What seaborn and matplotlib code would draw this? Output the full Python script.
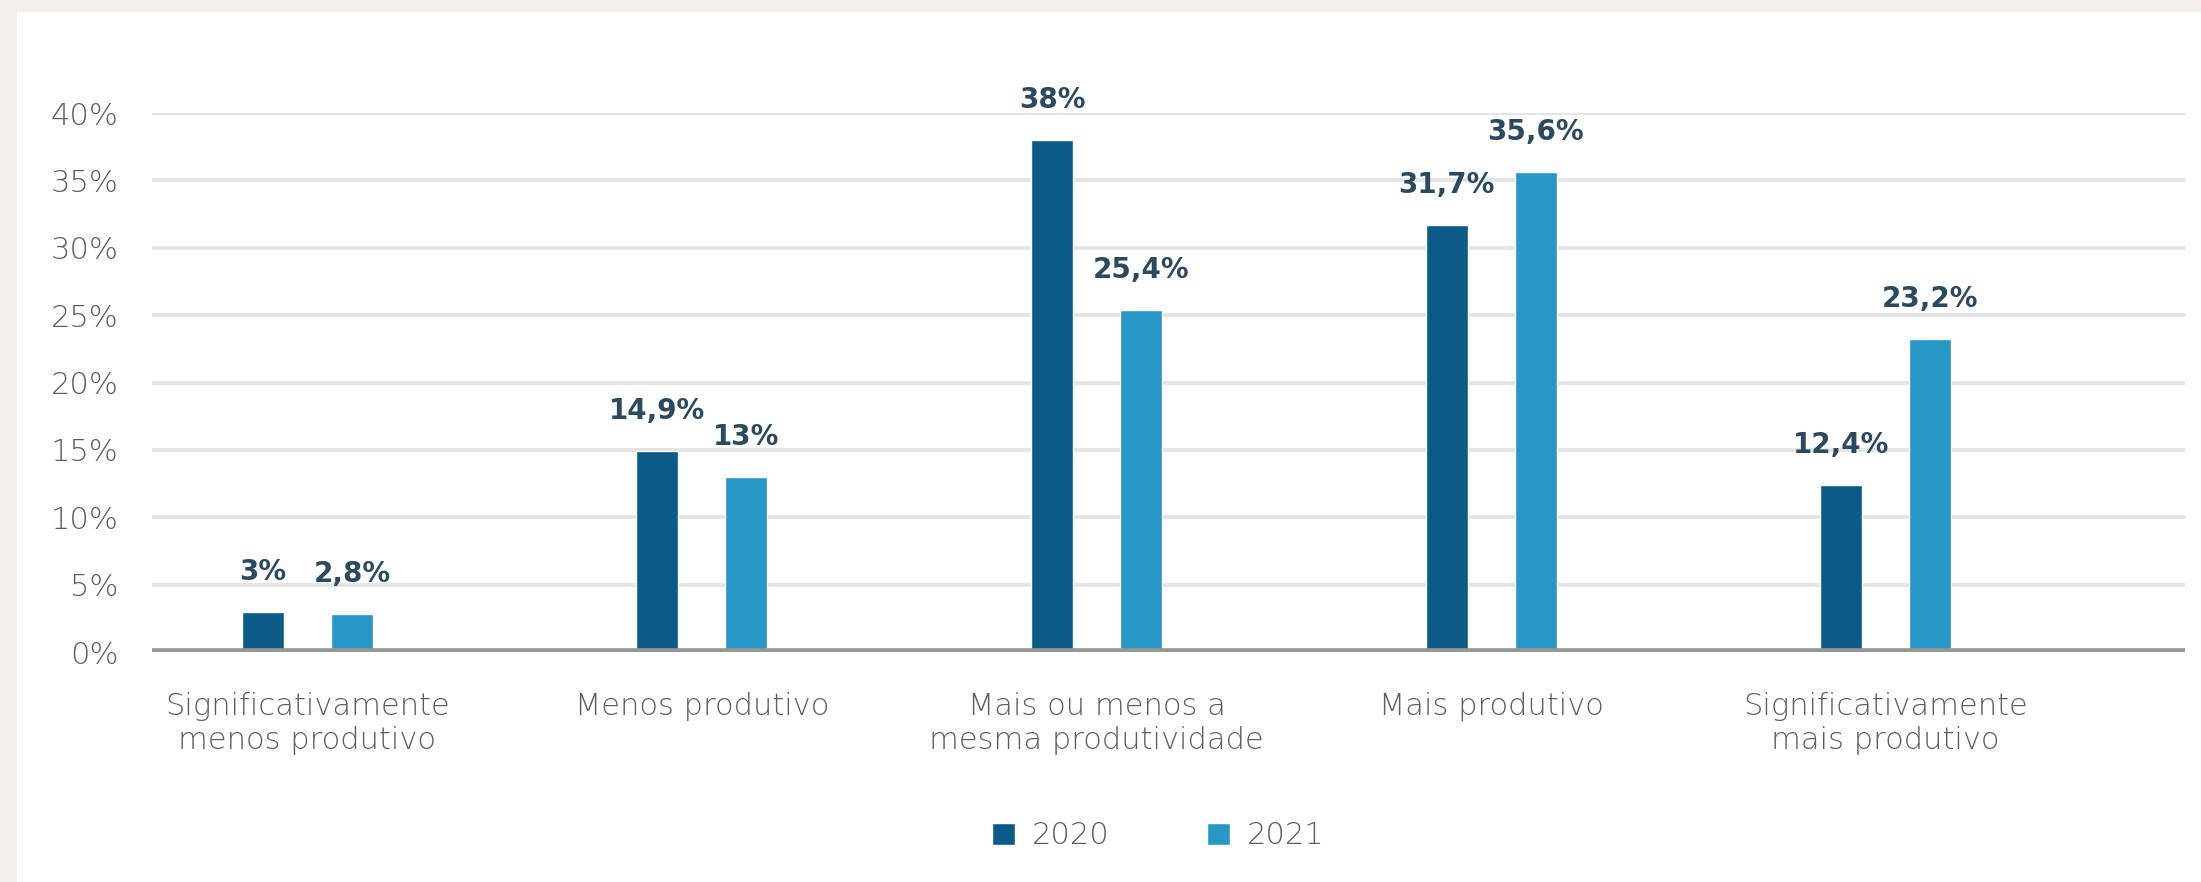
import matplotlib
matplotlib.use("Agg")
import matplotlib.pyplot as plt
from matplotlib.patches import Rectangle
import seaborn as sns
import pandas as pd

# Survey answers: perceived productivity, 2020 vs 2021
categories = [
    "Significativamente\nmenos produtivo",
    "Menos produtivo",
    "Mais ou menos a\nmesma produtividade",
    "Mais produtivo",
    "Significativamente\nmais produtivo",
]
years = ["2020", "2021"]
values_2020 = [3, 14.9, 38, 31.7, 12.4]
values_2021 = [2.8, 13, 25.4, 35.6, 23.2]
y_ticks = [0, 5, 10, 15, 20, 25, 30, 35, 40]

df = pd.DataFrame({
    "Categoria": categories * 2,
    "Ano": [years[0]] * len(categories) + [years[1]] * len(categories),
    "Valor": values_2020 + values_2021,
})

sns.set_theme(style="white")
plt.rcParams["font.family"] = ["DejaVu Sans"]

palette = {"2020": "#0b5a87", "2021": "#2797c5"}
gray_text = "#5e5e5e"
label_color = "#2b4a60"

fig = plt.figure(figsize=(22.01, 8.82), dpi=100)
fig.patch.set_facecolor("#f3f0eb")
# white card behind the chart
card = Rectangle((17 / 2201, 0), 1, 1 - 12 / 882, transform=fig.transFigure,
                 facecolor="white", edgecolor="none", zorder=-10)
fig.add_artist(card)

ax = fig.add_axes([0.06906, 0.26077, 0.92367, 0.61111])
ax.set_facecolor("none")

sns.barplot(data=df, x="Categoria", y="Valor", hue="Ano", order=categories,
            hue_order=years, palette=palette, width=0.451, gap=0.528,
            saturation=1, ax=ax, zorder=2)

# value labels above each bar
for container in ax.containers:
    labels = [f"{b.get_height():g}".replace(".", ",") + "%" for b in container]
    for bar, text in zip(container, labels):
        ax.annotate(text, (bar.get_x() + bar.get_width() / 2, bar.get_height()),
                    xytext=(0, 23), textcoords="offset points",
                    ha="center", va="baseline", fontsize=20,
                    fontweight="bold", color=label_color)

ax.set_ylim(0, 40)
ax.set_xlim(-0.394, 4.759)
ax.set_yticks(y_ticks)
ax.set_yticklabels([f"{t}%" for t in y_ticks])
ax.yaxis.grid(True, color="#e4e4e4", linewidth=2.8)
ax.xaxis.grid(False)
ax.set_axisbelow(True)
ax.axhline(0, color="#969696", linewidth=5.5, zorder=3)

for s in ax.spines.values():
    s.set_visible(False)
ax.tick_params(axis="y", length=0, pad=24, labelsize=22, labelcolor=gray_text)
ax.tick_params(axis="x", length=0, pad=29, labelsize=22, labelcolor=gray_text)
for lbl in ax.get_xticklabels():
    lbl.set_linespacing(1.2)
    lbl.set_fontweight("light")
for lbl in ax.get_yticklabels():
    lbl.set_fontweight("light")
ax.set_xlabel("")
ax.set_ylabel("")

handles, labels = ax.get_legend_handles_labels()
ax.legend(handles, labels, loc="center", bbox_to_anchor=(1158 / 2201, 0.0522),
          bbox_transform=fig.transFigure, ncol=2, frameon=False,
          prop={"size": 22, "weight": "light"}, labelcolor=gray_text,
          handlelength=0.75, handleheight=0.75, handletextpad=0.55,
          columnspacing=3.2)

fig.savefig("out.png", dpi=100, facecolor=fig.get_facecolor())
